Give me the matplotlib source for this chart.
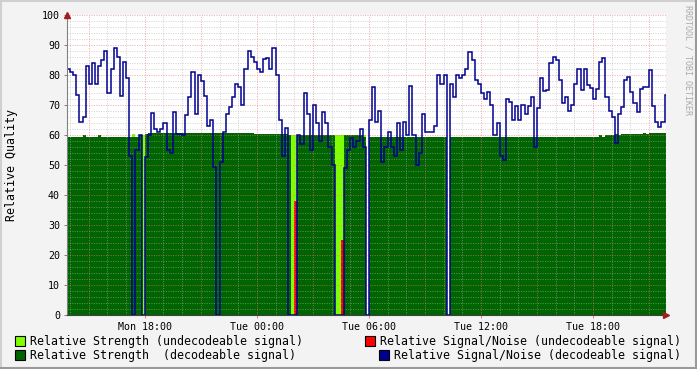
import numpy as np
import matplotlib
matplotlib.use("Agg")
import matplotlib.pyplot as plt
from matplotlib.patches import Rectangle
from matplotlib.lines import Line2D

# ---------------- data (10-minute steps starting Mon 13:50) ----------------
start_hour = 13 + 50 / 60
step_hours = 10 / 60

snr_decodeable = [
    82, 81, 80, 73.5, 64.5, 66, 83, 77, 84, 77,
    83, 85, 88, 74, 82, 89, 86, 73, 84.5, 79,
    53, 0, 55, 60, 0, 52.7, 60, 67.5, 62, 61,
    62, 64, 55, 54, 67.8, 60.5, 60.5, 60, 66.7, 72.8,
    81, 67, 80, 78, 73, 63, 65, 49.5, 0, 51,
    61, 67, 69.4, 72.8, 77, 76, 70, 82, 88, 86,
    84.4, 82, 81, 85.5, 85.8, 82, 89, 80, 65, 53,
    62.4, 0, 0, 0, 60, 57, 74, 67, 55, 70,
    64, 58, 67.8, 64, 56, 50, 0, 0, 0, 49,
    55, 59, 56, 58, 62, 56, 0, 65, 76, 64.4,
    68, 51, 56, 61, 56, 53, 64, 55, 64.4, 60,
    76.4, 60, 50, 54, 67, 61, 61, 61, 63, 80,
    77, 80, 0, 77, 72.8, 80, 79, 80, 82, 87.8,
    85, 78.3, 77, 74, 72, 74.4, 70, 60, 64, 53,
    51.7, 72, 71, 65, 69.8, 65, 70, 67, 69.8, 72.8,
    56, 69, 79, 74.7, 75, 84, 86, 85, 78.3, 70.6,
    72.8, 68, 70, 77, 82, 75, 82, 76.7, 75.8, 72,
    75.5, 84.4, 85.8, 72.8, 68, 66, 57.2, 67, 69.4, 78.3,
    79.4, 74.4, 70.6, 67.8, 75.5, 76, 76, 81.7, 69.8, 64.4,
    62.8, 64.4, 73.3,
]

strength_decodeable = [
    59.3, 59.3, 59.3, 59.3, 59.3, 60.0, 59.3, 59.3, 59.3, 59.3,
    60.0, 59.3, 59.3, 59.3, 59.3, 59.3, 59.3, 59.3, 59.3, 59.3,
    59.3, 59.3, 59.5, 60.0, 0, 60.3, 60.8, 60.8, 60.8, 60.8,
    60.8, 60.8, 60.8, 60.8, 60.8, 60.8, 60.8, 60.8, 60.8, 60.8,
    60.8, 60.8, 60.8, 60.8, 60.8, 60.8, 60.8, 60.8, 60.8, 60.8,
    60.8, 60.8, 60.8, 60.8, 60.8, 60.8, 60.8, 60.8, 60.8, 60.8,
    60.5, 60.5, 60.5, 60.5, 60.3, 60.3, 60.3, 60.3, 60.3, 60.3,
    60.3, 60.0, 0, 0, 60.0, 60.0, 60.0, 60.0, 60.0, 60.0,
    60.0, 60.0, 60.0, 60.0, 60.0, 60.0, 0, 0, 0, 60.0,
    60.0, 60.0, 60.0, 60.0, 60.0, 59.5, 0, 59.3, 59.3, 59.3,
    59.3, 59.3, 59.3, 59.3, 59.3, 59.3, 59.3, 59.3, 59.3, 59.3,
    59.3, 59.3, 59.3, 59.3, 59.3, 59.3, 59.3, 59.3, 59.3, 59.3,
    59.3, 59.3, 0, 59.3, 59.3, 59.3, 59.3, 59.3, 59.3, 59.3,
    59.3, 59.3, 59.3, 59.3, 59.3, 59.3, 59.3, 59.3, 59.3, 59.3,
    59.3, 59.3, 59.3, 59.3, 59.3, 59.3, 59.3, 59.3, 59.3, 59.3,
    59.3, 59.3, 59.3, 59.3, 59.3, 59.3, 59.3, 59.3, 59.3, 59.3,
    59.3, 59.3, 59.3, 59.3, 59.3, 59.3, 59.3, 59.3, 59.3, 59.3,
    59.5, 60.0, 59.5, 60.0, 60.0, 60.0, 60.3, 60.0, 60.3, 60.3,
    60.3, 60.5, 60.5, 60.3, 60.5, 60.8, 60.5, 60.8, 60.8, 60.8,
    60.8, 60.8, 60.8,
]

strength_undecodeable = [
    0, 0, 0, 0, 0, 0, 0, 0, 0, 0,
    0, 0, 0, 0, 0, 0, 0, 0, 0, 0,
    0, 60.5, 0, 0, 60, 0, 0, 0, 0, 0,
    0, 0, 0, 0, 0, 0, 0, 0, 0, 0,
    0, 0, 0, 0, 0, 0, 0, 0, 0, 0,
    0, 0, 0, 0, 0, 0, 0, 0, 0, 0,
    0, 0, 0, 0, 0, 0, 0, 0, 0, 0,
    0, 0, 60, 60, 0, 0, 0, 0, 0, 0,
    0, 0, 0, 0, 0, 0, 60, 60, 60, 0,
    0, 0, 0, 0, 0, 60, 0, 0, 0, 0,
    0, 0, 0, 0, 0, 0, 0, 0, 0, 0,
    0, 0, 0, 0, 0, 0, 0, 0, 0, 0,
    0, 0, 0, 0, 0, 0, 0, 0, 0, 0,
    0, 0, 0, 0, 0, 0, 0, 0, 0, 0,
    0, 0, 0, 0, 0, 0, 0, 0, 0, 0,
    0, 0, 0, 0, 0, 0, 0, 0, 0, 0,
    0, 0, 0, 0, 0, 0, 0, 0, 0, 0,
    0, 0, 0, 0, 0, 0, 0, 0, 0, 0,
    0, 0, 0, 0, 0, 0, 0, 0, 0, 0,
    0, 0, 0,
]

snr_undecodeable = [
    0, 0, 0, 0, 0, 0, 0, 0, 0, 0,
    0, 0, 0, 0, 0, 0, 0, 0, 0, 0,
    0, 0, 0, 0, 0, 0, 0, 0, 0, 0,
    0, 0, 0, 0, 0, 0, 0, 0, 0, 0,
    0, 0, 0, 0, 0, 0, 0, 0, 0, 0,
    0, 0, 0, 0, 0, 0, 0, 0, 0, 0,
    0, 0, 0, 0, 0, 0, 0, 0, 0, 0,
    0, 0, 0, 38, 0, 0, 0, 0, 0, 0,
    0, 0, 0, 0, 0, 0, 0, 0, 25, 0,
    0, 0, 0, 0, 0, 0, 0, 0, 0, 0,
    0, 0, 0, 0, 0, 0, 0, 0, 0, 0,
    0, 0, 0, 0, 0, 0, 0, 0, 0, 0,
    0, 0, 0, 0, 0, 0, 0, 0, 0, 0,
    0, 0, 0, 0, 0, 0, 0, 0, 0, 0,
    0, 0, 0, 0, 0, 0, 0, 0, 0, 0,
    0, 0, 0, 0, 0, 0, 0, 0, 0, 0,
    0, 0, 0, 0, 0, 0, 0, 0, 0, 0,
    0, 0, 0, 0, 0, 0, 0, 0, 0, 0,
    0, 0, 0, 0, 0, 0, 0, 0, 0, 0,
    0, 0, 0,
]

x_tick_hours = [18, 24, 30, 36, 42]
x_tick_labels = ["Mon 18:00", "Tue 00:00", "Tue 06:00", "Tue 12:00", "Tue 18:00"]
y_ticks = [0, 10, 20, 30, 40, 50, 60, 70, 80, 90, 100]
x_end_hour = 45.91

legend_labels = [
    "Relative Strength (undecodeable signal)",
    "Relative Signal/Noise (undecodeable signal)",
    "Relative Strength  (decodeable signal)",
    "Relative Signal/Noise (decodeable signal)",
]

# ---------------- styling ----------------
C_LIGHT = "#80FF00"
C_DARK = "#006400"
C_RED = "#FF0000"
C_BLUE = "#000090"
BG = "#F3F3F3"
MONO = "DejaVu Sans Mono"
plt.rcParams["font.family"] = MONO

W, H = 697, 369
fig = plt.figure(figsize=(W / 100, H / 100), dpi=100, facecolor=BG)

def fx(px):
    return px / W

def fy(py):
    return 1 - py / H

ax = fig.add_axes([fx(67), fy(315), (666 - 67) / W, 300 / H])
ax.set_facecolor("white")

n = len(snr_decodeable)
edges = start_hour + np.arange(n + 1) * step_hours

ax.stairs(strength_undecodeable, edges, fill=True, color=C_LIGHT, zorder=1, linewidth=0)
ax.stairs(strength_decodeable, edges, fill=True, color=C_DARK, zorder=1.1, linewidth=0)
ax.stairs(snr_undecodeable, edges, fill=True, color=C_RED, zorder=1.2, linewidth=0)
ax.stairs(snr_decodeable, edges, baseline=None, color=C_BLUE, linewidth=1.1, zorder=3)

ax.set_xlim(start_hour, x_end_hour)
ax.set_ylim(0, 100)

# grid (dotted, RRDtool style)
grid_kw = dict(linewidth=0.72, dashes=(1, 1.4), zorder=2)
for h in np.arange(14, 46, 1):
    if h % 3 == 0:
        continue
    ax.axvline(h, color="#B0B0B0", alpha=0.55, **grid_kw)
for v in np.arange(2, 100, 2):
    if v % 10 == 0:
        continue
    ax.axhline(v, color="#B0B0B0", alpha=0.55, **grid_kw)
for h in np.arange(15, 46, 3):
    ax.axvline(h, color="#F07070", alpha=0.6, **grid_kw)
for v in y_ticks[1:]:
    ax.axhline(v, color="#F07070", alpha=0.6, **grid_kw)

ax.set_xticks(x_tick_hours)
ax.set_xticklabels(x_tick_labels)
ax.set_yticks(y_ticks)
ax.tick_params(axis="both", labelsize=7.2, colors="#000000", length=2, width=0.7,
               direction="out")
ax.tick_params(axis="y", pad=3, color="#808080")
ax.tick_params(axis="x", pad=3, color="#E08080")

for side in ("top", "right"):
    ax.spines[side].set_visible(False)
ax.spines["left"].set_color("#808080")
ax.spines["bottom"].set_color("#404040")
ax.spines["left"].set_linewidth(0.8)
ax.spines["bottom"].set_linewidth(0.8)
ax.spines["left"].set_zorder(4)
ax.spines["bottom"].set_zorder(4)

# arrowheads
ax.plot([0], [1.0], marker="^", markersize=4, color="#A02020", transform=ax.transAxes,
        clip_on=False, zorder=5)
ax.plot([1.0], [0], marker=">", markersize=4, color="#A02020", transform=ax.transAxes,
        clip_on=False, zorder=5)

# y label
fig.text(fx(12), fy(165), "Relative Quality", rotation=90, ha="center", va="center",
         fontsize=8.4, color="#000000")

# watermark
fig.text(fx(688), fy(60), "RRDTOOL / TOBI OETIKER", rotation=270, ha="center",
         va="center", fontsize=6, color="#AAAAAA")

# legend
def legend_box(x, y, color):
    fig.add_artist(Rectangle((fx(x), fy(y + 10)), 10 / W, 10 / H, transform=fig.transFigure,
                             facecolor=color, edgecolor="black", linewidth=0.8))

legend_box(15, 336, C_LIGHT)
fig.text(fx(30), fy(341), legend_labels[0], ha="left", va="center", fontsize=8.4)
legend_box(365, 336, C_RED)
fig.text(fx(681), fy(341), legend_labels[1], ha="right", va="center", fontsize=8.4)
legend_box(15, 350, C_DARK)
fig.text(fx(30), fy(355), legend_labels[2], ha="left", va="center", fontsize=8.4)
legend_box(379, 350, C_BLUE)
fig.text(fx(681), fy(355), legend_labels[3], ha="right", va="center", fontsize=8.4)

# 3D frame
fig.add_artist(Line2D([0, 1], [fy(1), fy(1)], transform=fig.transFigure, color="#D0D0D0", lw=1.5))
fig.add_artist(Line2D([fx(1), fx(1)], [0, 1], transform=fig.transFigure, color="#D0D0D0", lw=1.5))
fig.add_artist(Line2D([0, 1], [fy(368), fy(368)], transform=fig.transFigure, color="#9A9A9A", lw=1.5))
fig.add_artist(Line2D([fx(696), fx(696)], [0, 1], transform=fig.transFigure, color="#9A9A9A", lw=1.5))

fig.savefig("out.png", dpi=100, facecolor=BG)
